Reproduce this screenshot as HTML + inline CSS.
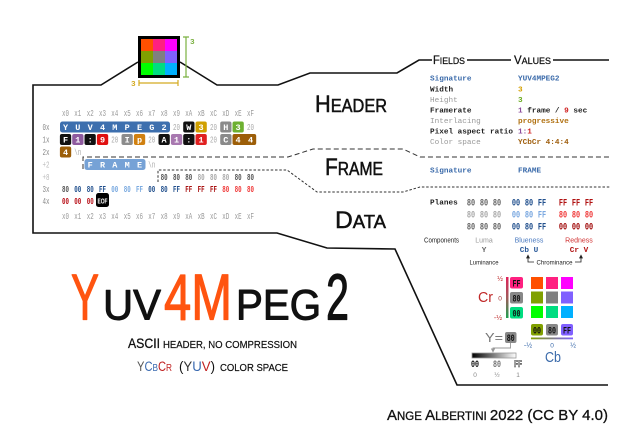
<!DOCTYPE html>
<html><head><meta charset="utf-8">
<style>
html,body{margin:0;padding:0;background:#fff;width:640px;height:430px;overflow:hidden;}
svg{display:block}
.hx{font-family:"Liberation Mono",monospace;font-size:9px;text-anchor:middle;}
.hb{font-family:"Liberation Mono",monospace;font-size:9px;font-weight:bold;text-anchor:middle;}
.bl{font-family:"Liberation Mono",monospace;font-size:8.5px;font-weight:bold;fill:#fff;text-anchor:middle;}
.f{font-family:"Liberation Mono",monospace;font-size:7.7px;font-weight:bold;}
.pl{font-family:"Liberation Mono",monospace;font-size:10px;font-weight:bold;text-anchor:middle;}
.s{font-family:"Liberation Sans",sans-serif;}
.g{fill:#aaa}
.lb{fill:#999}
</style></head><body>
<svg width="640" height="430" viewBox="0 0 640 430" xmlns="http://www.w3.org/2000/svg">
<defs>
<linearGradient id="crg" x1="0" y1="0" x2="0" y2="1"><stop offset="0" stop-color="#e0205a"/><stop offset="0.5" stop-color="#a05a5a"/><stop offset="1" stop-color="#20a050"/></linearGradient>
<linearGradient id="cbg" x1="0" y1="0" x2="1" y2="0"><stop offset="0" stop-color="#80a000"/><stop offset="1" stop-color="#8060ff"/></linearGradient>
<linearGradient id="yg" x1="0" y1="0" x2="1" y2="0"><stop offset="0" stop-color="#000"/><stop offset="1" stop-color="#fff"/></linearGradient>
<marker id="ah" markerWidth="6" markerHeight="6" refX="3" refY="3" orient="auto"><path d="M0,0.5 L5,3 L0,5.5 z" fill="#222"/></marker>
<marker id="ahg" markerWidth="6" markerHeight="6" refX="3" refY="3" orient="auto"><path d="M0,0.5 L5,3 L0,5.5 z" fill="#999"/></marker>
</defs>

<!-- outline -->
<path d="M138,62 L101,85 L33,85 L33,233 L277,233 L327,248 L395,249 L457,385 L608,385" fill="none" stroke="#111" stroke-width="1.6"/>
<path d="M180,62 L217,85 L278,85 L310,73 L397,73 L419,60 L432,60" fill="none" stroke="#111" stroke-width="1.6"/>
<path d="M467,60 L511,60 M553,60 L609,60" fill="none" stroke="#111" stroke-width="1.6"/>

<!-- dashed separators -->
<path d="M83,169 L83,157 L288,157 L313,149 L403,149 L420,157 L610,157" fill="none" stroke="#333" stroke-width="1" stroke-dasharray="5 3"/>
<path d="M158,182 L158,170 L287,170 L317,192 L403,192 L420,187 L610,187" fill="none" stroke="#333" stroke-width="1" stroke-dasharray="2.5 1.8"/>

<!-- top image -->
<rect x="141" y="39" width="12" height="12" fill="#ff5000"/>
<rect x="153" y="39" width="12" height="12" fill="#ff2080"/>
<rect x="165" y="39" width="12" height="12" fill="#ff00ff"/>
<rect x="141" y="51" width="12" height="12" fill="#80a000"/>
<rect x="153" y="51" width="12" height="12" fill="#808080"/>
<rect x="165" y="51" width="12" height="12" fill="#8060ff"/>
<rect x="141" y="63" width="12" height="12" fill="#00ff00"/>
<rect x="153" y="63" width="12" height="12" fill="#00dd80"/>
<rect x="165" y="63" width="12" height="12" fill="#00b0ff"/>
<rect x="139.5" y="37.5" width="39" height="39" fill="none" stroke="#000" stroke-width="3"/>
<path d="M186,37 L186,77 M183,37 L189,37 M183,77 L189,77" stroke="#7ab040" stroke-width="1.2" fill="none"/>
<text x="190" y="44" class="f" fill="#7ab040" font-size="8">3</text>
<path d="M139,83 L178,83 M139,80 L139,86 M178,80 L178,86" stroke="#d4aa20" stroke-width="1.2" fill="none"/>
<text x="131" y="86" class="f" fill="#d4aa20" font-size="8">3</text>

<!-- section labels -->
<text x="315" y="112" class="s" fill="#111" stroke="#111" stroke-width="0.5" textLength="72" lengthAdjust="spacingAndGlyphs"><tspan font-size="24">H</tspan><tspan font-size="18">EADER</tspan></text>
<text x="325" y="175" class="s" fill="#111" stroke="#111" stroke-width="0.5" textLength="58" lengthAdjust="spacingAndGlyphs"><tspan font-size="24">F</tspan><tspan font-size="18">RAME</tspan></text>
<text x="335" y="228" class="s" fill="#111" stroke="#111" stroke-width="0.5" textLength="51" lengthAdjust="spacingAndGlyphs"><tspan font-size="24">D</tspan><tspan font-size="18">ATA</tspan></text>

<!-- hex header row -->
<g class="hx lb">
<text x="65.5" y="116" textLength="7" lengthAdjust="spacingAndGlyphs">x0</text>
<text x="77.8" y="116" textLength="7" lengthAdjust="spacingAndGlyphs">x1</text>
<text x="90.2" y="116" textLength="7" lengthAdjust="spacingAndGlyphs">x2</text>
<text x="102.5" y="116" textLength="7" lengthAdjust="spacingAndGlyphs">x3</text>
<text x="114.8" y="116" textLength="7" lengthAdjust="spacingAndGlyphs">x4</text>
<text x="127.2" y="116" textLength="7" lengthAdjust="spacingAndGlyphs">x5</text>
<text x="139.5" y="116" textLength="7" lengthAdjust="spacingAndGlyphs">x6</text>
<text x="151.8" y="116" textLength="7" lengthAdjust="spacingAndGlyphs">x7</text>
<text x="164.1" y="116" textLength="7" lengthAdjust="spacingAndGlyphs">x8</text>
<text x="176.5" y="116" textLength="7" lengthAdjust="spacingAndGlyphs">x9</text>
<text x="188.8" y="116" textLength="7" lengthAdjust="spacingAndGlyphs">xA</text>
<text x="201.1" y="116" textLength="7" lengthAdjust="spacingAndGlyphs">xB</text>
<text x="213.5" y="116" textLength="7" lengthAdjust="spacingAndGlyphs">xC</text>
<text x="225.8" y="116" textLength="7" lengthAdjust="spacingAndGlyphs">xD</text>
<text x="238.1" y="116" textLength="7" lengthAdjust="spacingAndGlyphs">xE</text>
<text x="250.5" y="116" textLength="7" lengthAdjust="spacingAndGlyphs">xF</text>
</g>
<g class="hx lb">
<text x="65.5" y="219" textLength="7" lengthAdjust="spacingAndGlyphs">x0</text>
<text x="77.8" y="219" textLength="7" lengthAdjust="spacingAndGlyphs">x1</text>
<text x="90.2" y="219" textLength="7" lengthAdjust="spacingAndGlyphs">x2</text>
<text x="102.5" y="219" textLength="7" lengthAdjust="spacingAndGlyphs">x3</text>
<text x="114.8" y="219" textLength="7" lengthAdjust="spacingAndGlyphs">x4</text>
<text x="127.2" y="219" textLength="7" lengthAdjust="spacingAndGlyphs">x5</text>
<text x="139.5" y="219" textLength="7" lengthAdjust="spacingAndGlyphs">x6</text>
<text x="151.8" y="219" textLength="7" lengthAdjust="spacingAndGlyphs">x7</text>
<text x="164.1" y="219" textLength="7" lengthAdjust="spacingAndGlyphs">x8</text>
<text x="176.5" y="219" textLength="7" lengthAdjust="spacingAndGlyphs">x9</text>
<text x="188.8" y="219" textLength="7" lengthAdjust="spacingAndGlyphs">xA</text>
<text x="201.1" y="219" textLength="7" lengthAdjust="spacingAndGlyphs">xB</text>
<text x="213.5" y="219" textLength="7" lengthAdjust="spacingAndGlyphs">xC</text>
<text x="225.8" y="219" textLength="7" lengthAdjust="spacingAndGlyphs">xD</text>
<text x="238.1" y="219" textLength="7" lengthAdjust="spacingAndGlyphs">xE</text>
<text x="250.5" y="219" textLength="7" lengthAdjust="spacingAndGlyphs">xF</text>
</g>

<!-- row labels -->
<g class="hx">
<text x="46" y="130" fill="#888" textLength="7" lengthAdjust="spacingAndGlyphs">0x</text>
<text x="46" y="142.5" fill="#888" textLength="7" lengthAdjust="spacingAndGlyphs">1x</text>
<text x="46" y="155" fill="#888" textLength="7" lengthAdjust="spacingAndGlyphs">2x</text>
<text x="46" y="167.5" fill="#bbb" textLength="7" lengthAdjust="spacingAndGlyphs">+2</text>
<text x="46" y="180" fill="#bbb" textLength="7" lengthAdjust="spacingAndGlyphs">+8</text>
<text x="46" y="192" fill="#888" textLength="7" lengthAdjust="spacingAndGlyphs">3x</text>
<text x="46" y="204" fill="#888" textLength="7" lengthAdjust="spacingAndGlyphs">4x</text>
</g>

<!-- row 0x -->
<rect x="60" y="121.5" width="110" height="11" rx="2.5" fill="#3d6fae"/>
<rect x="183.2" y="121.5" width="11.3" height="11" rx="2" fill="#111"/>
<rect x="195.5" y="121.5" width="11.3" height="11" rx="2" fill="#d0a000"/>
<rect x="220.2" y="121.5" width="11.3" height="11" rx="2" fill="#8a8a8a"/>
<rect x="232.5" y="121.5" width="11.3" height="11" rx="2" fill="#6db030"/>
<g class="bl">
<text x="65.5" y="130">Y</text><text x="77.8" y="130">U</text><text x="90.2" y="130">V</text><text x="102.5" y="130">4</text><text x="114.8" y="130">M</text><text x="127.2" y="130">P</text><text x="139.5" y="130">E</text><text x="151.8" y="130">G</text><text x="164.1" y="130">2</text>
<text x="188.8" y="130">W</text><text x="201.1" y="130">3</text><text x="225.8" y="130">H</text><text x="238.1" y="130">3</text>
</g>
<g class="hx g">
<text x="176.5" y="130" textLength="7" lengthAdjust="spacingAndGlyphs">20</text>
<text x="213.5" y="130" textLength="7" lengthAdjust="spacingAndGlyphs">20</text>
<text x="250.5" y="130" textLength="7" lengthAdjust="spacingAndGlyphs">20</text>
</g>

<!-- row 1x -->
<rect x="59.9" y="134" width="11.3" height="11" rx="2" fill="#111"/>
<rect x="72.2" y="134" width="11.3" height="11" rx="2" fill="#8e5a9e"/>
<rect x="84.5" y="134" width="11.3" height="11" rx="2" fill="#111"/>
<rect x="96.9" y="134" width="11.3" height="11" rx="2" fill="#e01010"/>
<rect x="121.5" y="134" width="11.3" height="11" rx="2" fill="#8c8c8c"/>
<rect x="133.9" y="134" width="11.3" height="11" rx="2" fill="#d08010"/>
<rect x="158.5" y="134" width="11.3" height="11" rx="2" fill="#111"/>
<rect x="170.9" y="134" width="11.3" height="11" rx="2" fill="#a878b0"/>
<rect x="183.2" y="134" width="11.3" height="11" rx="2" fill="#111"/>
<rect x="195.5" y="134" width="11.3" height="11" rx="2" fill="#e02020"/>
<rect x="220.2" y="134" width="11.3" height="11" rx="2" fill="#8a8a8a"/>
<rect x="232.5" y="134" width="23.7" height="11" rx="2" fill="#9c5e08"/>
<g class="bl">
<text x="65.5" y="142.5">F</text><text x="77.8" y="142.5">1</text><text x="90.2" y="142.5">:</text><text x="102.5" y="142.5">9</text>
<text x="127.2" y="142.5">I</text><text x="139.5" y="142.5">p</text>
<text x="164.1" y="142.5">A</text><text x="176.5" y="142.5">1</text><text x="188.8" y="142.5">:</text><text x="201.1" y="142.5">1</text>
<text x="225.8" y="142.5">C</text><text x="238.1" y="142.5">4</text><text x="250.5" y="142.5">4</text>
</g>
<g class="hx g">
<text x="114.8" y="142.5" textLength="7" lengthAdjust="spacingAndGlyphs">20</text>
<text x="151.8" y="142.5" textLength="7" lengthAdjust="spacingAndGlyphs">20</text>
<text x="213.5" y="142.5" textLength="7" lengthAdjust="spacingAndGlyphs">20</text>
</g>

<!-- row 2x -->
<rect x="59.9" y="146.5" width="11.3" height="11" rx="2" fill="#9c5e08"/>
<text x="65.5" y="155" class="bl">4</text>
<text x="77.8" y="155" class="hx g" textLength="7" lengthAdjust="spacingAndGlyphs">\n</text>

<!-- row +2 -->
<rect x="84.5" y="159" width="61" height="11" rx="2.5" fill="#76a2d6"/>
<g class="bl">
<text x="90.2" y="167.5">F</text><text x="102.5" y="167.5">R</text><text x="114.8" y="167.5">A</text><text x="127.2" y="167.5">M</text><text x="139.5" y="167.5">E</text>
</g>
<text x="151.8" y="167.5" class="hx g" textLength="7" lengthAdjust="spacingAndGlyphs">\n</text>

<!-- row +8 -->
<g class="hb">
<text x="164.1" y="180" fill="#555" textLength="7" lengthAdjust="spacingAndGlyphs">80</text>
<text x="176.5" y="180" fill="#555" textLength="7" lengthAdjust="spacingAndGlyphs">80</text>
<text x="188.8" y="180" fill="#555" textLength="7" lengthAdjust="spacingAndGlyphs">80</text>
<text x="201.1" y="180" fill="#aaa" textLength="7" lengthAdjust="spacingAndGlyphs">80</text>
<text x="213.5" y="180" fill="#aaa" textLength="7" lengthAdjust="spacingAndGlyphs">80</text>
<text x="225.8" y="180" fill="#aaa" textLength="7" lengthAdjust="spacingAndGlyphs">80</text>
<text x="238.1" y="180" fill="#555" textLength="7" lengthAdjust="spacingAndGlyphs">80</text>
<text x="250.5" y="180" fill="#555" textLength="7" lengthAdjust="spacingAndGlyphs">80</text>
</g>

<!-- row 3x -->
<g class="hb">
<text x="65.5" y="192" fill="#555" textLength="7" lengthAdjust="spacingAndGlyphs">80</text>
<text x="77.8" y="192" fill="#1f4e8c" textLength="7" lengthAdjust="spacingAndGlyphs">00</text>
<text x="90.2" y="192" fill="#1f4e8c" textLength="7" lengthAdjust="spacingAndGlyphs">80</text>
<text x="102.5" y="192" fill="#1f4e8c" textLength="7" lengthAdjust="spacingAndGlyphs">FF</text>
<text x="114.8" y="192" fill="#7aaae0" textLength="7" lengthAdjust="spacingAndGlyphs">00</text>
<text x="127.2" y="192" fill="#7aaae0" textLength="7" lengthAdjust="spacingAndGlyphs">80</text>
<text x="139.5" y="192" fill="#7aaae0" textLength="7" lengthAdjust="spacingAndGlyphs">FF</text>
<text x="151.8" y="192" fill="#1f4e8c" textLength="7" lengthAdjust="spacingAndGlyphs">00</text>
<text x="164.1" y="192" fill="#1f4e8c" textLength="7" lengthAdjust="spacingAndGlyphs">80</text>
<text x="176.5" y="192" fill="#1f4e8c" textLength="7" lengthAdjust="spacingAndGlyphs">FF</text>
<text x="188.8" y="192" fill="#a81010" textLength="7" lengthAdjust="spacingAndGlyphs">FF</text>
<text x="201.1" y="192" fill="#a81010" textLength="7" lengthAdjust="spacingAndGlyphs">FF</text>
<text x="213.5" y="192" fill="#a81010" textLength="7" lengthAdjust="spacingAndGlyphs">FF</text>
<text x="225.8" y="192" fill="#f03a3a" textLength="7" lengthAdjust="spacingAndGlyphs">80</text>
<text x="238.1" y="192" fill="#f03a3a" textLength="7" lengthAdjust="spacingAndGlyphs">80</text>
<text x="250.5" y="192" fill="#f03a3a" textLength="7" lengthAdjust="spacingAndGlyphs">80</text>
</g>

<!-- row 4x -->
<g class="hb">
<text x="65.5" y="204" fill="#b81018" textLength="7" lengthAdjust="spacingAndGlyphs">00</text>
<text x="77.8" y="204" fill="#b81018" textLength="7" lengthAdjust="spacingAndGlyphs">00</text>
<text x="90.2" y="204" fill="#b81018" textLength="7" lengthAdjust="spacingAndGlyphs">00</text>
</g>
<rect x="96" y="193" width="13" height="14" rx="2.5" fill="#000"/>
<text x="102.5" y="203.5" class="s" font-size="7" font-weight="bold" fill="#fff" text-anchor="middle" textLength="10" lengthAdjust="spacingAndGlyphs">EOF</text>

<!-- Fields / Values -->
<text x="433" y="64" class="s" fill="#111" stroke="#111" stroke-width="0.25" textLength="32" lengthAdjust="spacingAndGlyphs"><tspan font-size="11.5">F</tspan><tspan font-size="9">IELDS</tspan></text>
<text x="514" y="64" class="s" fill="#111" stroke="#111" stroke-width="0.25" textLength="37" lengthAdjust="spacingAndGlyphs"><tspan font-size="11.5">V</tspan><tspan font-size="9">ALUES</tspan></text>

<g class="f">
<text x="430" y="80.5" fill="#3a6aaa">Signature</text>
<text x="430" y="91.5" fill="#222">Width</text>
<text x="430" y="102" fill="#999" font-weight="normal">Height</text>
<text x="430" y="112.5" fill="#222">Framerate</text>
<text x="430" y="123" fill="#999" font-weight="normal">Interlacing</text>
<text x="430" y="133.5" fill="#222">Pixel aspect ratio</text>
<text x="430" y="144" fill="#999" font-weight="normal">Color space</text>
<text x="518" y="80.5" fill="#3a6aaa">YUV4MPEG2</text>
<text x="518" y="91.5" fill="#d4a000">3</text>
<text x="518" y="102" fill="#6aaa20">3</text>
<text x="518" y="112.5" fill="#222"><tspan fill="#8a4a9a">1</tspan> frame / <tspan fill="#d02020">9</tspan> sec</text>
<text x="518" y="123" fill="#b07010">progressive</text>
<text x="518" y="133.5" fill="#8a4a9a">1:<tspan fill="#d02020">1</tspan></text>
<text x="518" y="144" fill="#a06010">YCbCr 4:4:4</text>
<text x="430" y="172.5" fill="#3a6aaa">Signature</text>
<text x="518" y="172.5" fill="#3a6aaa">FRAME</text>
<text x="430" y="204.5" fill="#222">Planes</text>
</g>

<!-- planes -->
<g class="pl">
<text x="471" y="205.5" fill="#666" textLength="8.3" lengthAdjust="spacingAndGlyphs">80</text>
<text x="484" y="205.5" fill="#666" textLength="8.3" lengthAdjust="spacingAndGlyphs">80</text>
<text x="497" y="205.5" fill="#666" textLength="8.3" lengthAdjust="spacingAndGlyphs">80</text>
<text x="471" y="217.5" fill="#aaa" textLength="8.3" lengthAdjust="spacingAndGlyphs">80</text>
<text x="484" y="217.5" fill="#aaa" textLength="8.3" lengthAdjust="spacingAndGlyphs">80</text>
<text x="497" y="217.5" fill="#aaa" textLength="8.3" lengthAdjust="spacingAndGlyphs">80</text>
<text x="471" y="229.5" fill="#666" textLength="8.3" lengthAdjust="spacingAndGlyphs">80</text>
<text x="484" y="229.5" fill="#666" textLength="8.3" lengthAdjust="spacingAndGlyphs">80</text>
<text x="497" y="229.5" fill="#666" textLength="8.3" lengthAdjust="spacingAndGlyphs">80</text>

<text x="516" y="205.5" fill="#1f4e8c" textLength="8.3" lengthAdjust="spacingAndGlyphs">00</text>
<text x="529" y="205.5" fill="#1f4e8c" textLength="8.3" lengthAdjust="spacingAndGlyphs">80</text>
<text x="542" y="205.5" fill="#1f4e8c" textLength="8.3" lengthAdjust="spacingAndGlyphs">FF</text>
<text x="516" y="217.5" fill="#7aa8e0" textLength="8.3" lengthAdjust="spacingAndGlyphs">00</text>
<text x="529" y="217.5" fill="#7aa8e0" textLength="8.3" lengthAdjust="spacingAndGlyphs">80</text>
<text x="542" y="217.5" fill="#7aa8e0" textLength="8.3" lengthAdjust="spacingAndGlyphs">FF</text>
<text x="516" y="229.5" fill="#1f4e8c" textLength="8.3" lengthAdjust="spacingAndGlyphs">00</text>
<text x="529" y="229.5" fill="#1f4e8c" textLength="8.3" lengthAdjust="spacingAndGlyphs">80</text>
<text x="542" y="229.5" fill="#1f4e8c" textLength="8.3" lengthAdjust="spacingAndGlyphs">FF</text>

<text x="563" y="205.5" fill="#b01010" textLength="8.3" lengthAdjust="spacingAndGlyphs">FF</text>
<text x="576" y="205.5" fill="#b01010" textLength="8.3" lengthAdjust="spacingAndGlyphs">FF</text>
<text x="589" y="205.5" fill="#b01010" textLength="8.3" lengthAdjust="spacingAndGlyphs">FF</text>
<text x="563" y="217.5" fill="#f03c3c" textLength="8.3" lengthAdjust="spacingAndGlyphs">80</text>
<text x="576" y="217.5" fill="#f03c3c" textLength="8.3" lengthAdjust="spacingAndGlyphs">80</text>
<text x="589" y="217.5" fill="#f03c3c" textLength="8.3" lengthAdjust="spacingAndGlyphs">80</text>
<text x="563" y="229.5" fill="#a00808" textLength="8.3" lengthAdjust="spacingAndGlyphs">00</text>
<text x="576" y="229.5" fill="#a00808" textLength="8.3" lengthAdjust="spacingAndGlyphs">00</text>
<text x="589" y="229.5" fill="#a00808" textLength="8.3" lengthAdjust="spacingAndGlyphs">00</text>
</g>

<!-- components -->
<g class="s" font-size="7">
<text x="424" y="242.5" fill="#222" textLength="35" lengthAdjust="spacingAndGlyphs">Components</text>
<text x="484" y="242.5" fill="#999" text-anchor="middle">Luma</text>
<text x="529" y="242.5" fill="#4a7ac0" text-anchor="middle">Blueness</text>
<text x="579" y="242.5" fill="#d03030" text-anchor="middle">Redness</text>
<text x="484" y="264.5" fill="#222" text-anchor="middle" font-size="6.5" textLength="29" lengthAdjust="spacingAndGlyphs">Luminance</text>
<text x="554.5" y="264.5" fill="#222" text-anchor="middle" font-size="6.5" textLength="36" lengthAdjust="spacingAndGlyphs">Chrominance</text>
</g>
<g class="f">
<text x="484" y="252" fill="#666" text-anchor="middle">Y</text>
<text x="529" y="252" fill="#2a5a9a" text-anchor="middle">Cb U</text>
<text x="579" y="252" fill="#b01010" text-anchor="middle">Cr V</text>
</g>
<path d="M534,262 L528,262 L528,256" fill="none" stroke="#222" stroke-width="0.8" marker-end="url(#ah)"/>
<path d="M575,262 L581,262 L581,256" fill="none" stroke="#222" stroke-width="0.8" marker-end="url(#ah)"/>

<!-- color space diagram -->
<rect x="506" y="277" width="2.5" height="41" fill="url(#crg)"/>
<g class="s" font-size="7" text-anchor="middle">
<text x="500" y="281" fill="#c03030">½</text>
<text x="500" y="300.5" fill="#a03030" font-size="6.5">0</text>
<text x="498" y="320" fill="#c03030">-½</text>
</g>
<text x="478" y="302" class="s" font-size="15" fill="#c02828" textLength="15" lengthAdjust="spacingAndGlyphs">Cr</text>

<rect x="510" y="277" width="13" height="11.5" rx="2" fill="#ff2080"/>
<rect x="510" y="292" width="13" height="11.5" rx="2" fill="#888"/>
<rect x="510" y="307" width="13" height="11.5" rx="2" fill="#00dd80"/>
<g class="pl" font-size="9.5" fill="#111">
<text x="516.5" y="286.3" textLength="8" lengthAdjust="spacingAndGlyphs">FF</text>
<text x="516.5" y="301.3" textLength="8" lengthAdjust="spacingAndGlyphs">80</text>
<text x="516.5" y="316.3" textLength="8" lengthAdjust="spacingAndGlyphs">00</text>
</g>

<rect x="531" y="277" width="12" height="12" fill="#ff5000"/>
<rect x="546" y="277" width="12" height="12" fill="#ff2080"/>
<rect x="561" y="277" width="12" height="12" fill="#ff00ff"/>
<rect x="531" y="291.5" width="12" height="12" fill="#80a000"/>
<rect x="546" y="291.5" width="12" height="12" fill="#808080"/>
<rect x="561" y="291.5" width="12" height="12" fill="#8060ff"/>
<rect x="531" y="306" width="12" height="12" fill="#00ff00"/>
<rect x="546" y="306" width="12" height="12" fill="#00dd80"/>
<rect x="561" y="306" width="12" height="12" fill="#00b0ff"/>

<rect x="531" y="324" width="12" height="11.5" rx="2" fill="#80a000"/>
<rect x="546" y="324" width="12" height="11.5" rx="2" fill="#888"/>
<rect x="561" y="324" width="12" height="11.5" rx="2" fill="#8060ff"/>
<g class="pl" font-size="9.5" fill="#111">
<text x="537" y="333.3" textLength="8" lengthAdjust="spacingAndGlyphs">00</text>
<text x="552" y="333.3" textLength="8" lengthAdjust="spacingAndGlyphs">80</text>
<text x="567" y="333.3" textLength="8" lengthAdjust="spacingAndGlyphs">FF</text>
</g>
<rect x="531" y="337.5" width="42" height="1.8" fill="url(#cbg)"/>
<g class="s" font-size="7" text-anchor="middle" fill="#3a6aaa">
<text x="528" y="347.5">-½</text>
<text x="552" y="347.5" font-size="6.5">0</text>
<text x="573" y="347.5">½</text>
</g>
<text x="545" y="362" class="s" font-size="15" fill="#3a6aaa" textLength="16" lengthAdjust="spacingAndGlyphs">Cb</text>

<text x="485" y="342" class="s" font-size="13" fill="#777" textLength="18" lengthAdjust="spacingAndGlyphs">Y=</text>
<rect x="505" y="332" width="11.5" height="11" rx="2" fill="#888"/>
<text x="510.7" y="341" class="pl" font-size="9.5" fill="#111" textLength="8" lengthAdjust="spacingAndGlyphs">80</text>
<path d="M510.5,343 L510.5,348 L493,348 L493,351" fill="none" stroke="#999" stroke-width="0.9" marker-end="url(#ahg)"/>
<rect x="472" y="353" width="44" height="5" fill="url(#yg)" stroke="#999" stroke-width="0.8"/>
<g class="pl" font-size="9.5">
<text x="475" y="367" fill="#111" textLength="8" lengthAdjust="spacingAndGlyphs">00</text>
<text x="497" y="367" fill="#777" textLength="8" lengthAdjust="spacingAndGlyphs">80</text>
<text x="518" y="367" fill="#fff" stroke="#111" stroke-width="0.6" textLength="8" lengthAdjust="spacingAndGlyphs">FF</text>
</g>
<g class="s" font-size="6.5" text-anchor="middle" fill="#888">
<text x="475" y="377">0</text>
<text x="497" y="377">½</text>
<text x="518" y="377">1</text>
</g>

<!-- title -->
<g stroke-linejoin="round" stroke-linecap="round">
<text x="71" y="319.5" class="s" font-size="65" fill="#ff5410" stroke="#ff5410" stroke-width="1.2" textLength="28" lengthAdjust="spacingAndGlyphs">Y</text>
<text x="103" y="319.5" class="s" font-size="43" fill="#111" stroke="#111" stroke-width="1" textLength="58" lengthAdjust="spacingAndGlyphs">UV</text>
<text x="164" y="319.5" class="s" font-size="65" fill="#ff5410" stroke="#ff5410" stroke-width="1.2" textLength="68" lengthAdjust="spacingAndGlyphs">4M</text>
<text x="236" y="319.5" class="s" font-size="43" fill="#111" stroke="#111" stroke-width="1" textLength="85" lengthAdjust="spacingAndGlyphs">PEG</text>
<text x="326" y="319.5" class="s" font-size="65" fill="#111" stroke="#111" stroke-width="1.2" textLength="23" lengthAdjust="spacingAndGlyphs">2</text>
</g>

<text x="128" y="348" class="s" font-size="13.5" fill="#111" stroke="#111" stroke-width="0.3" textLength="32" lengthAdjust="spacingAndGlyphs">ASCII</text>
<text x="163" y="348" class="s" font-size="10" fill="#111" stroke="#111" stroke-width="0.2" textLength="134" lengthAdjust="spacingAndGlyphs">HEADER, NO COMPRESSION</text>

<text x="137" y="371" class="s" font-size="13.5" textLength="35" lengthAdjust="spacingAndGlyphs"><tspan fill="#555">Y</tspan><tspan fill="#3a6ab0">C</tspan><tspan fill="#3a6ab0" font-size="10">B</tspan><tspan fill="#c02020">C</tspan><tspan fill="#c02020" font-size="10">R</tspan></text>
<text x="179" y="371" class="s" font-size="13.5" textLength="36" lengthAdjust="spacingAndGlyphs"><tspan fill="#111">(</tspan><tspan fill="#333">Y</tspan><tspan fill="#3a6ab0">U</tspan><tspan fill="#c02020">V</tspan><tspan fill="#111">)</tspan></text>
<text x="220" y="371" class="s" font-size="10" fill="#111" stroke="#111" stroke-width="0.2" textLength="68" lengthAdjust="spacingAndGlyphs">COLOR SPACE</text>

<!-- credit -->
<text x="387" y="420" class="s" fill="#111" stroke="#111" stroke-width="0.3" textLength="221" lengthAdjust="spacingAndGlyphs"><tspan font-size="15">A</tspan><tspan font-size="11.5">NGE </tspan><tspan font-size="15">A</tspan><tspan font-size="11.5">LBERTINI </tspan><tspan font-size="15">2022  (CC BY 4.0)</tspan></text>
</svg>
</body></html>
